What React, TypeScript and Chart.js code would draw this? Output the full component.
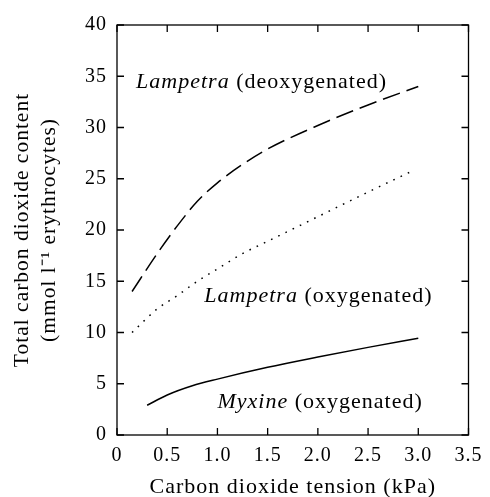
import React, { useEffect, useRef } from "react";
import { Chart, registerables } from "chart.js";

Chart.register(...registerables);

// Carbon dioxide tension (kPa) and total CO2 content (mmol l-1 erythrocytes)
const pco2LampDeoxy = [0.15, 0.4, 0.6, 0.8, 1.0, 1.25, 1.5, 2.0, 2.5, 3.0];
const co2LampDeoxy = [14, 17.7, 20.4, 22.8, 24.6, 26.4, 27.9, 30.2, 32.2, 34.0];
const pco2LampOxy = [0.15, 0.4, 0.6, 0.8, 1.0, 1.25, 1.5, 2.0, 2.5, 2.95];
const co2LampOxy = [10, 12.3, 13.6, 15.0, 16.2, 17.7, 18.9, 21.3, 23.7, 25.8];
const pco2Myxine = [0.3, 0.5, 0.75, 1.0, 1.5, 2.0, 2.5, 3.0];
const co2Myxine = [2.9, 3.9, 4.8, 5.45, 6.6, 7.6, 8.55, 9.45];

const xTicks = [0, 0.5, 1.0, 1.5, 2.0, 2.5, 3.0, 3.5];
const yTicks = [0, 5, 10, 15, 20, 25, 30, 35, 40];

const labelSpecies = ["Lampetra", "Lampetra", "Myxine"];
const labelState = [" (deoxygenated)", " (oxygenated)", " (oxygenated)"];
const labelAtX = [0.19, 0.87, 1.0];
const labelAtY = [33.85, 13.0, 2.6];

const FONT = "'Liberation Serif', 'Times New Roman', serif";

const zip = (xs: number[], ys: number[]) => xs.map((x, i) => ({ x, y: ys[i] }));

const framePlugin = {
  id: "frame",
  beforeDraw(chart: any) {
    chart.ctx.letterSpacing = "1px";
  },
  afterDraw(chart: any) {
    const { ctx, chartArea: a, scales } = chart;
    const xs = scales.x;
    const ys = scales.y;
    ctx.save();
    ctx.strokeStyle = "#000";
    ctx.lineWidth = 1.3;
    ctx.setLineDash([]);
    ctx.strokeRect(a.left, a.top, a.right - a.left, a.bottom - a.top);
    const tl = 7;
    ctx.beginPath();
    xTicks.forEach((v) => {
      const px = xs.getPixelForValue(v);
      ctx.moveTo(px, a.bottom);
      ctx.lineTo(px, a.bottom - tl);
      ctx.moveTo(px, a.top);
      ctx.lineTo(px, a.top + tl);
    });
    yTicks.forEach((v) => {
      const py = ys.getPixelForValue(v);
      ctx.moveTo(a.left, py);
      ctx.lineTo(a.left + tl, py);
      ctx.moveTo(a.right, py);
      ctx.lineTo(a.right - tl, py);
    });
    ctx.stroke();
    // curve labels
    ctx.fillStyle = "#000";
    ctx.textBaseline = "alphabetic";
    ctx.textAlign = "left";
    labelSpecies.forEach((sp, i) => {
      const px = xs.getPixelForValue(labelAtX[i]);
      const py = ys.getPixelForValue(labelAtY[i]);
      ctx.font = `italic 22px ${FONT}`;
      ctx.fillText(sp, px, py);
      const w = ctx.measureText(sp).width;
      ctx.font = `22px ${FONT}`;
      ctx.fillText(labelState[i], px + w, py);
    });
    ctx.restore();
  },
};

export default function App() {
  const ref = useRef<HTMLCanvasElement>(null);
  useEffect(() => {
    if (!ref.current) return;
    const line = {
      borderColor: "#000",
      borderWidth: 1.5,
      pointRadius: 0,
      cubicInterpolationMode: "monotone" as const,
      fill: false,
    };
    const chart = new Chart(ref.current, {
      type: "line",
      data: {
        datasets: [
          {
            ...line,
            label: "Lampetra (deoxygenated)",
            data: zip(pco2LampDeoxy, co2LampDeoxy),
            borderDash: [18, 7],
          },
          {
            ...line,
            label: "Lampetra (oxygenated)",
            data: zip(pco2LampOxy, co2LampOxy),
            borderDash: [1.6, 6.4],
          },
          {
            ...line,
            label: "Myxine (oxygenated)",
            data: zip(pco2Myxine, co2Myxine),
          },
        ],
      },
      options: {
        responsive: false,
        animation: false,
        layout: { padding: { top: 25, right: 18, left: 0, bottom: 0 } },
        plugins: { legend: { display: false }, tooltip: { enabled: false } },
        scales: {
          x: {
            type: "linear",
            min: 0,
            max: 3.5,
            afterBuildTicks: (s: any) => {
              s.ticks = xTicks.map((v) => ({ value: v }));
            },
            afterFit: (s: any) => {
              s.height = 62;
            },
            grid: { display: false, drawTicks: false },
            border: { display: false },
            ticks: {
              color: "#000",
              padding: 9,
              maxRotation: 0,
              autoSkip: false,
              font: { family: FONT, size: 20 },
              callback: (v: any) => (Number(v) === 0 ? "0" : Number(v).toFixed(1)),
            },
            title: {
              display: true,
              text: "Carbon dioxide tension (kPa)",
              color: "#000",
              font: { family: FONT, size: 22, lineHeight: 1 },
              padding: { top: 0, bottom: -1 },
            },
          },
          y: {
            type: "linear",
            min: 0,
            max: 40,
            afterBuildTicks: (s: any) => {
              s.ticks = yTicks.map((v) => ({ value: v }));
            },
            afterFit: (s: any) => {
              s.width = 117;
            },
            grid: { display: false, drawTicks: false },
            border: { display: false },
            ticks: {
              color: "#000",
              padding: 10,
              autoSkip: false,
              font: { family: FONT, size: 20 },
              callback: (v: any) => String(v),
            },
            title: {
              display: true,
              text: ["Total carbon dioxide content", "(mmol l\u207B\u00B9 erythrocytes)"],
              color: "#000",
              font: { family: FONT, size: 21.5, lineHeight: 1.26 },
              padding: { top: 8.5, bottom: 0 },
            },
          },
        },
      },
      plugins: [framePlugin],
    });
    return () => chart.destroy();
  }, []);
  return (
    <div style={{ position: "fixed", left: 0, top: 0, width: 490, height: 497, background: "#fff" }}>
      <canvas ref={ref} width={490} height={497} />
    </div>
  );
}
